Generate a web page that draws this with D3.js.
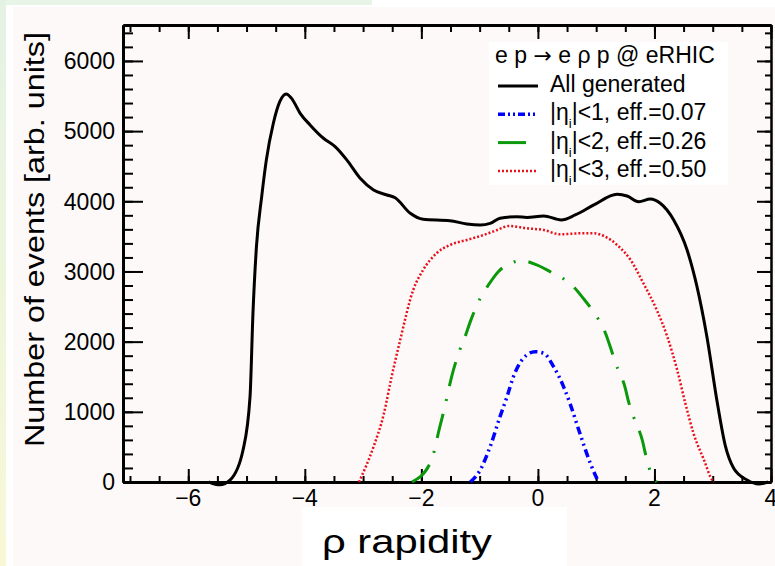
<!DOCTYPE html>
<html>
<head>
<meta charset="utf-8">
<script src="https://cdn.jsdelivr.net/npm/d3@7"></script>
<style>
  body { margin: 0; background: #fff; }
  text { font-family: "Liberation Sans", Arial, Helvetica, sans-serif; fill: #000; }
</style>
</head>
<body>
<div id="chart"></div>
<script>
// rapidity, counts
const allGenerated = [
  [-5.65, 0], [-5.46, -40], [-5.28, 30], [-5.06, 456], [-4.94, 1216], [-4.89, 2400],
  [-4.83, 3353], [-4.74, 4066], [-4.66, 4590], [-4.54, 5112], [-4.43, 5420], [-4.32, 5530],
  [-4.23, 5470], [-4.08, 5254], [-3.91, 5088], [-3.68, 4898], [-3.48, 4779], [-3.28, 4590],
  [-3.05, 4328], [-2.82, 4161], [-2.59, 4090], [-2.45, 4050], [-2.19, 3829], [-1.97, 3744],
  [-1.51, 3724], [-1.22, 3677], [-0.99, 3662], [-0.82, 3686], [-0.65, 3758], [-0.36, 3781],
  [-0.19, 3770], [0.1, 3791], [0.4, 3734], [0.64, 3805], [0.96, 3948], [1.36, 4100],
  [1.53, 4076], [1.73, 3995], [1.93, 4033], [2.1, 3972], [2.33, 3734], [2.56, 3306],
  [2.73, 2783], [2.9, 2071], [3.08, 1121], [3.22, 503], [3.36, 195], [3.59, 28],
  [3.79, -28], [3.95, 0]
]
const eta1 = [
  [-1.16, 0], [-0.99, 171], [-0.82, 503], [-0.65, 931], [-0.53, 1216], [-0.42, 1501],
  [-0.25, 1763], [-0.05, 1857], [0.1, 1834], [0.27, 1643], [0.44, 1359], [0.55, 1121],
  [0.73, 670], [0.9, 266], [1.01, 52], [1.04, 0]
]
const eta2 = [
  [-2.16, 0], [-1.85, 266], [-1.76, 503], [-1.71, 694], [-1.59, 1097], [-1.54, 1287],
  [-1.48, 1501], [-1.34, 1881], [-1.25, 2071], [-1.16, 2285], [-0.99, 2618], [-0.85, 2807],
  [-0.68, 2997], [-0.5, 3107], [-0.27, 3154], [-0.02, 3093], [0.21, 2997], [0.61, 2783],
  [0.77, 2626], [0.93, 2451], [1.16, 2120], [1.25, 1905], [1.33, 1700], [1.5, 1335],
  [1.56, 1130], [1.64, 931], [1.79, 599], [1.86, 352], [1.93, 147], [2.04, 0]
]
const eta3 = [
  [-3.07, 0], [-2.82, 503], [-2.65, 950], [-2.51, 1500], [-2.37, 2000], [-2.14, 2736],
  [-1.97, 3021], [-1.74, 3259], [-1.51, 3377], [-1.22, 3449], [-0.93, 3520], [-0.7, 3591],
  [-0.5, 3648], [-0.19, 3615], [0.1, 3591], [0.38, 3530], [0.73, 3544], [0.96, 3544],
  [1.13, 3506], [1.36, 3377], [1.59, 3164], [1.81, 2832], [2.04, 2451], [2.22, 2071],
  [2.39, 1596], [2.53, 1121], [2.67, 694], [2.85, 314], [2.99, 28], [3.02, 0]
]
const xTickLabels = [-6, -4, -2, 0, 2, 4]
const yTickLabels = [0, 1000, 2000, 3000, 4000, 5000, 6000]
const legendNames = ['All generated', '|<1, eff.=0.07', '|<2, eff.=0.26', '|<3, eff.=0.50']

const canvasWidth = 775
const canvasHeight = 566
const margins = {top: 25, right: 4, bottom: 84, left: 123}
const width = canvasWidth - margins.left - margins.right
const height = canvasHeight - margins.top - margins.bottom

const svg = d3.select('#chart')
  .append('svg')
  .attr('width', canvasWidth)
  .attr('height', canvasHeight)

// page backdrop
const grad = svg.append('defs').append('linearGradient')
  .attr('id', 'side').attr('x1', 0).attr('y1', 0).attr('x2', 0).attr('y2', 1)
grad.append('stop').attr('offset', '0%').attr('stop-color', '#e4f2e4')
grad.append('stop').attr('offset', '100%').attr('stop-color', '#f8f8d6')
svg.append('rect').attr('width', canvasWidth).attr('height', canvasHeight).attr('fill', '#fff')
svg.append('rect').attr('width', 372).attr('height', 5).attr('fill', '#e8f4e6')
svg.append('rect').attr('width', 6).attr('height', canvasHeight).attr('fill', 'url(#side)')
svg.append('rect').attr('x', 13).attr('y', 7).attr('width', canvasWidth - 13)
  .attr('height', canvasHeight - 7).attr('fill', '#fef9f9')

const x = d3.scaleLinear().domain([-7.12, 4]).range([0, width])
const y = d3.scaleLinear().domain([0, 6512]).range([height, 0])

const g = svg.append('g')
  .attr('transform', `translate(${margins.left}, ${margins.top})`)

const xMinor = x.ticks(22)
const yMinor = y.ticks(32)

function styleAxis(sel, w) {
  sel.select('.domain').attr('stroke-width', w)
  sel.selectAll('.tick line').attr('stroke-width', 2)
  sel.selectAll('.tick text').remove()
}

// minor ticks
g.append('g').attr('transform', `translate(0, ${height})`)
  .call(d3.axisBottom(x).tickValues(xMinor).tickSize(-6).tickSizeOuter(0))
  .call(styleAxis, 3)
g.append('g')
  .call(d3.axisTop(x).tickValues(xMinor).tickSize(-7).tickSizeOuter(0))
  .call(styleAxis, 3)
g.append('g')
  .call(d3.axisLeft(y).tickValues(yMinor).tickSize(-10).tickSizeOuter(0))
  .call(styleAxis, 3)
g.append('g').attr('transform', `translate(${width}, 0)`)
  .call(d3.axisRight(y).tickValues(yMinor).tickSize(-6).tickSizeOuter(0))
  .call(styleAxis, 2)

// major ticks
g.append('g').attr('transform', `translate(0, ${height})`)
  .call(d3.axisBottom(x).tickValues(xTickLabels).tickSize(-13).tickSizeOuter(0))
  .call(styleAxis, 3)
g.append('g')
  .call(d3.axisTop(x).tickValues(xTickLabels).tickSize(-14).tickSizeOuter(0))
  .call(styleAxis, 3)
g.append('g')
  .call(d3.axisLeft(y).tickValues(yTickLabels).tickSize(-20).tickSizeOuter(0))
  .call(styleAxis, 3)
g.append('g').attr('transform', `translate(${width}, 0)`)
  .call(d3.axisRight(y).tickValues(yTickLabels).tickSize(-14).tickSizeOuter(0))
  .call(styleAxis, 2)

// tick labels
g.selectAll('text.xl')
  .data(xTickLabels)
  .enter()
  .append('text')
  .attr('x', d => x(d))
  .attr('y', height + 24)
  .attr('font-size', 23)
  .style('text-anchor', 'middle')
  .text(d => d < 0 ? '\u2212' + Math.abs(d) : d)

g.selectAll('text.yl')
  .data(yTickLabels)
  .enter()
  .append('text')
  .attr('x', -8)
  .attr('y', d => y(d))
  .attr('dy', '0.36em')
  .attr('font-size', 23)
  .style('text-anchor', 'end')
  .text(d => d)

// curves
const line = d3.line()
  .x(d => x(d[0]))
  .y(d => y(d[1]))
  .curve(d3.curveMonotoneX)

const series = [
  {data: eta3, color: '#e8101a', width: 2.5, dash: '2,2'},
  {data: eta2, color: '#0a990a', width: 3, dash: '25,13,2,13'},
  {data: eta1, color: '#0000ff', width: 3.5, dash: '8,4,2,4,2,4'},
  {data: allGenerated, color: '#000', width: 3, dash: null}
]

g.selectAll('path.curve')
  .data(series)
  .enter()
  .append('path')
  .attr('class', 'curve')
  .attr('d', d => line(d.data))
  .attr('fill', 'none')
  .attr('stroke', d => d.color)
  .attr('stroke-width', d => d.width)
  .attr('stroke-dasharray', d => d.dash)

// legend
const legend = svg.append('g')
legend.append('rect')
  .attr('x', 489).attr('y', 42).attr('width', 239).attr('height', 143)
  .attr('fill', '#fff')
const title = legend.append('text')
  .attr('x', 495).attr('y', 63)
  .attr('font-size', 23)
title.append('tspan').text('e p ')
title.append('tspan').style('font-family', '"DejaVu Sans"').attr('font-size', 22).text('\u2192')
title.append('tspan').text(' e \u03c1 p @ eRHIC')

const legendSeries = [series[3], series[2], series[1], series[0]]
legendSeries.forEach((s, i) => {
  const by = 92 + i * 28.3
  legend.append('line')
    .attr('x1', 498).attr('x2', i === 2 ? 526 : 538)
    .attr('y1', by - 6).attr('y2', by - 6)
    .attr('stroke', s.color)
    .attr('stroke-width', s.width)
    .attr('stroke-dasharray', i === 2 ? null : (i === 1 ? '7,3,2,3,2,3' : s.dash))
  const t = legend.append('text')
    .attr('x', 550).attr('y', by)
    .attr('font-size', 23)
  if (i === 0) {
    t.text(legendNames[i])
  } else {
    t.append('tspan').text('|\u03b7')
    t.append('tspan').attr('font-size', 13).attr('dy', 8).text('i')
    t.append('tspan').attr('dy', -8).text(legendNames[i])
  }
})

// axis titles
svg.append('rect')
  .attr('x', 302).attr('y', 507).attr('width', 265).attr('height', 59)
  .attr('fill', '#fff')
svg.append('text')
  .attr('x', 322).attr('y', 553)
  .attr('font-size', 33)
  .attr('textLength', 170)
  .attr('lengthAdjust', 'spacingAndGlyphs')
  .text('\u03c1 rapidity')

svg.append('text')
  .attr('transform', 'translate(44, 447) rotate(-90)')
  .attr('font-size', 27)
  .attr('textLength', 415)
  .attr('lengthAdjust', 'spacingAndGlyphs')
  .text('Number of events [arb. units]')
</script>
</body>
</html>
